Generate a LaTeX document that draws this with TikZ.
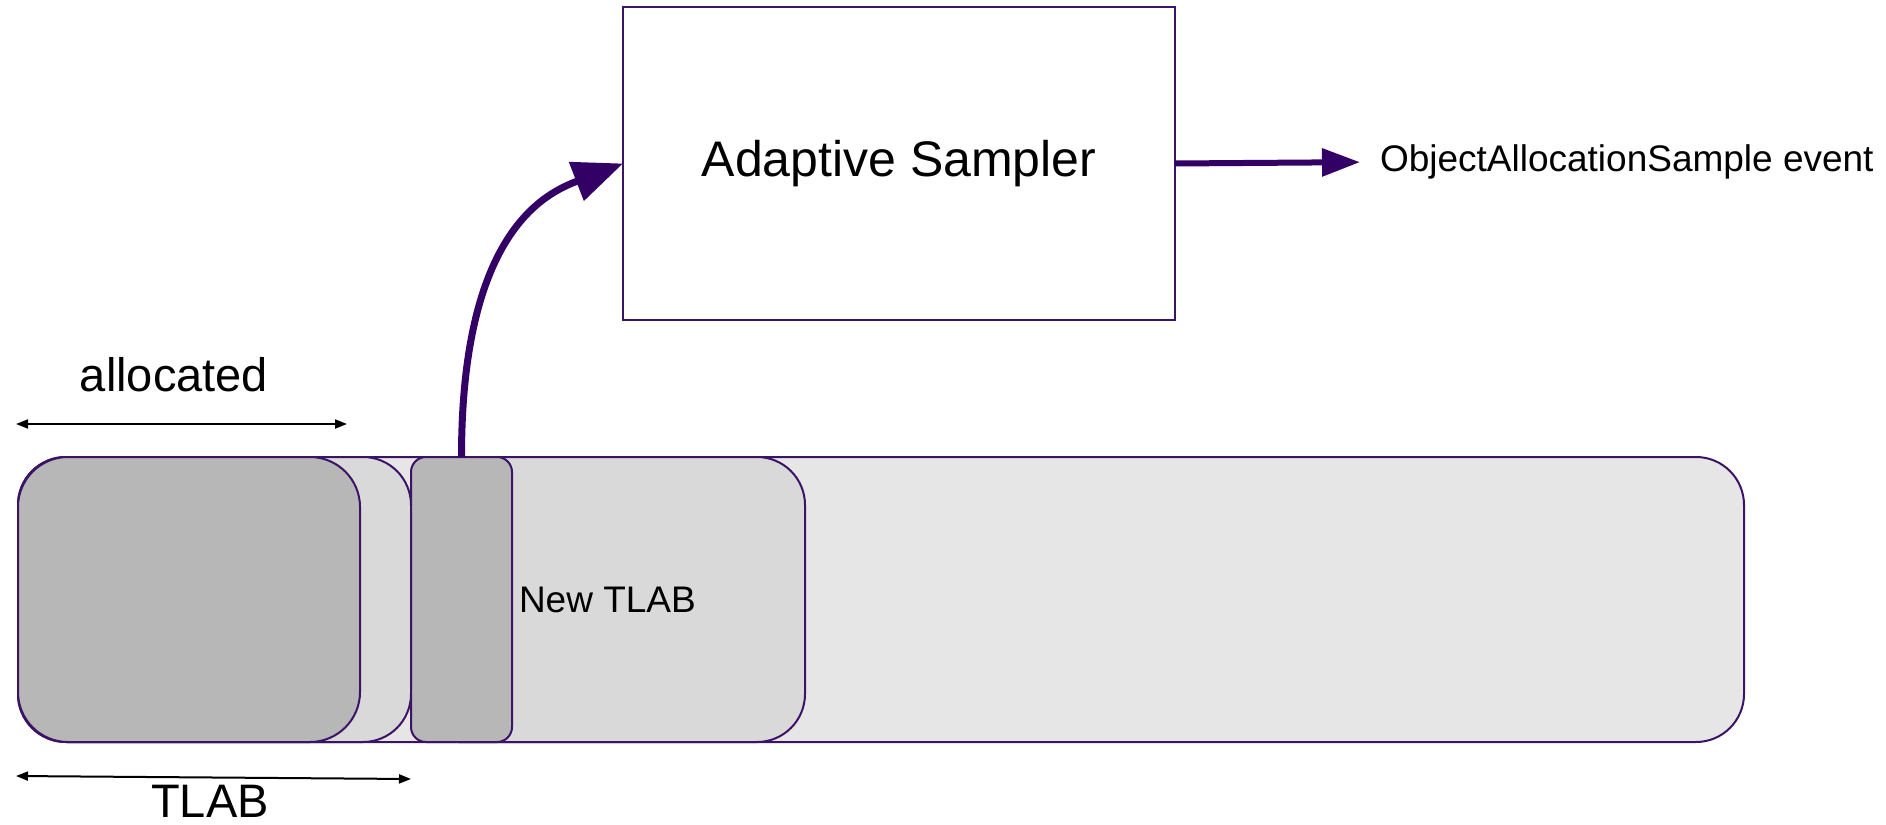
\documentclass[tikz,border=0pt]{standalone}
\usepackage{fontspec}
\setmainfont{Liberation Sans}
\usetikzlibrary{arrows.meta}

\definecolor{outline}{HTML}{3C1466}
\definecolor{arrowpurple}{HTML}{330066}
\definecolor{fillbar}{HTML}{E6E6E6}
\definecolor{filllight}{HTML}{D9D9D9}
\definecolor{filldark}{HTML}{B7B7B7}

\begin{document}
\begin{tikzpicture}[x=1pt,y=-1pt,
  region/.style={draw=outline, line width=2pt, inner sep=0pt, outer sep=0pt,
    minimum height=285pt},
  lbl/.style={inner sep=0pt, outer sep=0pt, text=black},
  flow/.style={draw=arrowpurple, line width=6pt,
    -{Triangle[length=#1]}},
  measure/.style={draw=black, line width=2pt,
    {Triangle[length=12pt,width=9pt]}-{Triangle[length=12pt,width=9pt]}}
]
\useasboundingbox (0,0) rectangle (1886,824);

% heap strip and the TLABs carved out of it
\node[region, fill=fillbar, rounded corners=48pt, minimum width=1726pt] (heap) at (881,599.5) {};
\node[region, fill=filllight, rounded corners=48pt, minimum width=394pt] (newtlab) at (608,599.5) {};
\node[region, fill=filllight, rounded corners=48pt, minimum width=393pt] (oldtlab) at (214.5,599.5) {};
\node[region, fill=filldark, rounded corners=50pt, minimum width=342pt] (used) at (189,599.5) {};
\node[region, fill=filldark, rounded corners=15pt, minimum width=101pt] (obj) at (461.5,599.5) {};

\node[lbl, anchor=west, font=\fontsize{37}{44}\selectfont] (newlbl) at (519,600) {New TLAB};

% sampler
\node[draw=outline, line width=2pt, fill=white, inner sep=0pt, outer sep=0pt,
  minimum width=552pt, minimum height=313pt] (sampler) at (899,163.5) {};
\node[lbl, font=\fontsize{50}{60}\selectfont] (samplerlbl) at (sampler.center) {Adaptive Sampler};

\node[lbl, anchor=west, font=\fontsize{37}{44}\selectfont] (event) at (1380,162) {ObjectAllocationSample event};

% flows
\draw[flow={50pt,width=40pt}, line width=7pt] (obj.north)
  .. controls ([yshift=225pt]obj.north) and ([xshift=-78pt,yshift=-30pt]sampler.west)
  .. (sampler.west);
\draw[flow={38pt,width=27pt}, shorten >=20pt] (sampler.east) -- (event.west);

% extents
\coordinate (allocL) at (16,424);
\coordinate (allocR) at (347,424);
\draw[measure] (allocL) -- (allocR);
\node[lbl, font=\fontsize{47}{56}\selectfont] (alloclbl) at (174,375) {allocated};

\coordinate (tlabL) at (16,776);
\coordinate (tlabR) at (411,779);
\draw[measure] (tlabL) -- (tlabR);
\node[lbl, font=\fontsize{47}{56}\selectfont] (tlablbl) at (210,801) {TLAB};
\end{tikzpicture}
\end{document}
